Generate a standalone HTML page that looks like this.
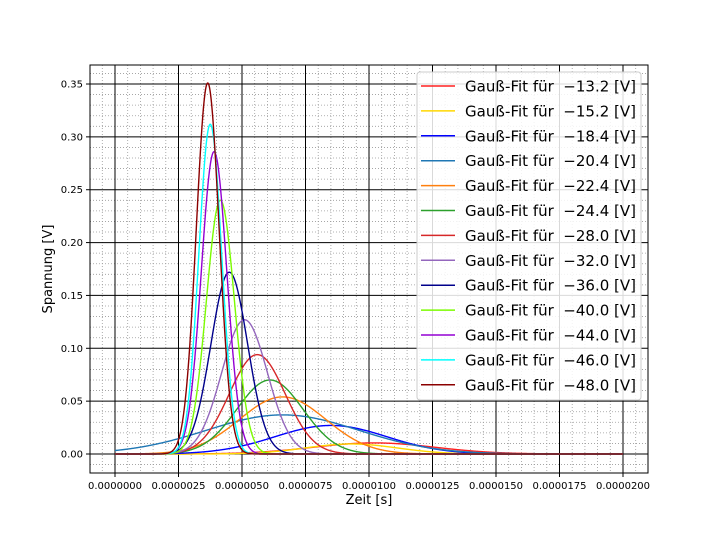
<!DOCTYPE html>
<html><head><meta charset="utf-8"><style>
body{margin:0;background:#fff;}
svg text{font-family:"DejaVu Sans","Liberation Sans",sans-serif;}
</style></head><body>
<svg id="chart" width="720" height="540" xmlns="http://www.w3.org/2000/svg">
<rect x="0" y="0" width="720" height="540" fill="#fff"/>
<g id="grid"></g>
<g id="curves"></g>
<g id="axes"></g>
<g id="legend"></g>
</svg>
<script>
const labels = ["−13.2","−15.2","−18.4","−20.4","−22.4","−24.4","−28.0","−32.0","−36.0","−40.0","−44.0","−46.0","−48.0"];
const colors = ["#ff2020","#ffd700","#0000ff","#1f77b4","#ff7f0e","#2ca02c","#d62728","#9467bd","#00008b","#7cfc00","#9400d3","#00ffff","#8b0000"];
const amplitudes = [0.0105,0.0095,0.027,0.037,0.054,0.070,0.094,0.127,0.172,0.240,0.286,0.312,0.351];
const centers = [10.2e-6,9.3e-6,8.5e-6,6.6e-6,6.6e-6,6.1e-6,5.6e-6,5.1e-6,4.5e-6,4.15e-6,3.9e-6,3.75e-6,3.65e-6];
const sigmas = [2.4e-6,1.8e-6,2.2e-6,3.0e-6,1.7e-6,1.3e-6,1.1e-6,0.9e-6,0.72e-6,0.55e-6,0.5e-6,0.45e-6,0.45e-6];
const xTicks = [0,2.5e-6,5e-6,7.5e-6,1e-5,1.25e-5,1.5e-5,1.75e-5,2e-5];
const xTickLabels = ["0.0000000","0.0000025","0.0000050","0.0000075","0.0000100","0.0000125","0.0000150","0.0000175","0.0000200"];
const yTicks = [0,0.05,0.1,0.15,0.2,0.25,0.3,0.35];
const yTickLabels = ["0.00","0.05","0.10","0.15","0.20","0.25","0.30","0.35"];

const L=90,R=648,T=65,B=473;
const X=v=>115+v*25.4e6;
const Y=v=>454-v*1057.1;
const NS="http://www.w3.org/2000/svg";
function mk(tag,attrs,parent){const e=document.createElementNS(NS,tag);for(const k in attrs)e.setAttribute(k,attrs[k]);parent.appendChild(e);return e;}
const grid=document.getElementById('grid'),axes=document.getElementById('axes'),curves=document.getElementById('curves'),legend=document.getElementById('legend');

// minor grid
for(let i=-2;i<=42;i++){const v=i*0.5e-6;const x=X(v);if(x<L||x>R||i%5===0)continue;
 const l=mk('line',{x1:x,x2:x,y1:T,y2:B,stroke:'#999','stroke-width':0.8,'stroke-dasharray':'1,2'},grid);
 }
for(let i=-2;i<=37;i++){const v=i*0.01;const y=Y(v);if(y<T||y>B||i%5===0)continue;
 const l=mk('line',{x1:L,x2:R,y1:y,y2:y,stroke:'#999','stroke-width':0.8,'stroke-dasharray':'1,2'},grid);
 }
xTicks.forEach((v,i)=>{const x=X(v);
 const l=mk('line',{x1:x,x2:x,y1:T,y2:B,stroke:'#000','stroke-width':1},grid);
 
 mk('line',{x1:x,x2:x,y1:B,y2:B+4,stroke:'#000'},axes);
 const t=mk('text',{x:x,y:B+16,'font-size':10,'text-anchor':'middle'},axes);t.textContent=xTickLabels[i];
 });
yTicks.forEach((v,i)=>{const y=Y(v);
 const l=mk('line',{x1:L,x2:R,y1:y,y2:y,stroke:'#000','stroke-width':1},grid);
 
 mk('line',{x1:L-4,x2:L,y1:y,y2:y,stroke:'#000'},axes);
 const t=mk('text',{x:L-7,y:y+3.5,'font-size':10,'text-anchor':'end'},axes);t.textContent=yTickLabels[i];
 });
const fr=mk('rect',{x:L,y:T,width:R-L,height:B-T,fill:'none',stroke:'#000','stroke-width':1},axes);

const xt=mk('text',{x:369,y:504,'font-size':13,'text-anchor':'middle'},axes);xt.textContent='Zeit [s]';

const yt=mk('text',{x:52,y:269,'font-size':13,'text-anchor':'middle',transform:'rotate(-90 52 269)'},axes);yt.textContent='Spannung [V]';


// curves
amplitudes.forEach((a,k)=>{let d='';for(let i=0;i<=1000;i++){const v=i*2e-8;const val=a*Math.exp(-Math.pow(v-centers[k],2)/(2*sigmas[k]*sigmas[k]));
 d+=(i?'L':'M')+X(v).toFixed(2)+','+Y(val).toFixed(2);}
 const p=mk('path',{d:d,fill:'none',stroke:colors[k],'stroke-width':1.4},curves);
 });

// legend
const lb=mk('rect',{x:417,y:72,width:224,height:328,rx:3,fill:'#fff','fill-opacity':0.85,stroke:'#ccc'},legend);

labels.forEach((s,k)=>{const y=86+k*24.9;
 const g=mk('g',{},legend);
 mk('line',{x1:421,x2:455,y1:y,y2:y,stroke:colors[k],'stroke-width':1.5},g);
 const t=mk('text',{x:465,y:y+5.5,'font-size':15},g);t.textContent='Gauß-Fit für  '+s+' [V]';t.setAttribute('xml:space','preserve');t.style.whiteSpace='pre';});
</script>
</body></html>
